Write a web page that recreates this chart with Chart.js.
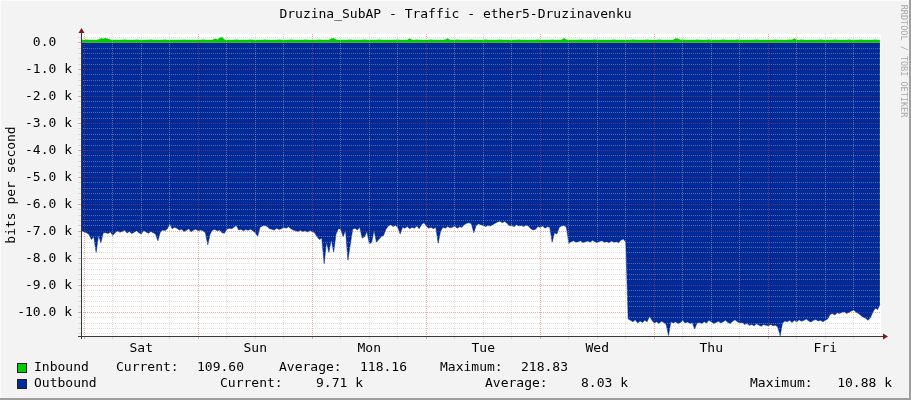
<!DOCTYPE html>
<html><head><meta charset="utf-8">
<script src="https://cdn.jsdelivr.net/npm/chart.js@4/dist/chart.umd.min.js"></script>
<style>html,body{margin:0;padding:0;background:#F3F3F3;}canvas{display:block;}</style>
</head><body>
<canvas id="c" width="911" height="400"></canvas>
<script>
const TITLE = 'Druzina_SubAP - Traffic - ether5-Druzinavenku';
const Y_TITLE = 'bits per second';
const WATERMARK = 'RRDTOOL / TOBI OETIKER';
const dayLabels = ['Sat','Sun','Mon','Tue','Wed','Thu','Fri'];
const seriesNames = ['Inbound','Outbound'];
const statLabels = ['Current:','Average:','Maximum:'];
const inboundStats = ['109.60','118.16','218.83'];
const outboundStats = ['9.71 k','8.03 k','10.88 k'];
// samples every half hour, hour 0 = Saturday 00:00
const START_HOUR = -0.5, STEP_HOURS = 0.5;
const outbound = [
-6980,-7020,-7050,-7120,-7300,-7200,-7780,-7150,-7420,-7050,
-7050,-7080,-7020,-7150,-7040,-6980,-7030,-7000,-6950,-7060,
-7000,-7080,-7030,-6980,-7050,-7100,-6970,-7020,-7070,-7000,
-7050,-7100,-7350,-7020,-6950,-6970,-6900,-6720,-6900,-6850,
-6880,-6950,-6920,-7000,-6960,-6900,-7020,-6950,-6920,-6980,
-6950,-6980,-7050,-7500,-7100,-6950,-6930,-6980,-6950,-7050,
-7070,-6920,-6880,-6900,-6850,-6780,-6950,-6920,-6980,-6930,
-6960,-6920,-6980,-7050,-7180,-6850,-6800,-6780,-6820,-6900,
-6920,-6950,-6880,-6930,-6900,-6850,-6880,-6830,-6900,-6950,
-6980,-7000,-6960,-7000,-6980,-7020,-6970,-7000,-7050,-7200,
-7300,-7250,-8200,-7400,-7780,-7300,-7770,-7100,-6900,-6920,
-7200,-6950,-8070,-7500,-6920,-6880,-6950,-6850,-7250,-7200,
-7000,-7450,-7420,-6950,-7400,-7300,-7200,-7150,-6920,-6800,
-6750,-6820,-6780,-6850,-7100,-6850,-6880,-6820,-6900,-6850,
-6880,-6800,-6900,-6750,-6680,-6800,-6880,-6850,-6900,-6850,
-7440,-7000,-6850,-6880,-6820,-6870,-6850,-6800,-6880,-6830,
-6850,-6750,-6700,-6680,-6720,-7050,-6780,-6720,-6750,-6780,
-6820,-6780,-6800,-6750,-6700,-6650,-6620,-6680,-6630,-6700,
-6800,-6780,-6830,-6750,-6800,-6780,-6820,-6770,-6800,-6900,
-6950,-6920,-6820,-6850,-6800,-6880,-6830,-6850,-7400,-7050,
-7100,-6850,-6800,-6780,-6850,-7450,-7380,-7350,-7400,-7380,
-7350,-7420,-7380,-7360,-7400,-7330,-7380,-7420,-7370,-7350,
-7400,-7380,-7420,-7360,-7400,-7380,-7420,-7320,-7280,-7400,
-10250,-10300,-10350,-10280,-10400,-10320,-10380,-10300,-10350,-10150,
-10300,-10400,-10350,-10420,-10330,-10380,-10450,-10860,-10350,-10400,
-10350,-10420,-10380,-10300,-10400,-10360,-10420,-10380,-10620,-10400,
-10380,-10420,-10350,-10400,-10300,-10350,-10420,-10380,-10330,-10400,
-10350,-10300,-10380,-10420,-10330,-10280,-10350,-10400,-10380,-10450,
-10420,-10480,-10450,-10500,-10430,-10470,-10520,-10450,-10480,-10500,
-10450,-10500,-10480,-10550,-10870,-10400,-10320,-10350,-10300,-10380,
-10300,-10350,-10280,-10330,-10300,-10250,-10320,-10360,-10300,-10270,
-10320,-10300,-10350,-10300,-10250,-10080,-10050,-10100,-10020,-10050,
-10000,-9980,-10050,-10000,-9950,-9920,-10000,-10050,-10120,-10180,
-10220,-10300,-10200,-10000,-9850,-9900,-9710
];
const inbound = [
110,108,112,110,109,111,110,112,160,150,
170,140,112,110,108,111,109,110,112,110,
111,109,110,112,108,110,111,109,110,112,
110,108,111,110,109,112,110,111,108,110,
109,111,110,112,110,108,111,109,110,111,
110,112,109,110,111,108,150,112,180,219,
120,110,109,111,110,112,108,110,111,109,
110,112,110,108,111,109,110,112,110,109,
111,110,108,112,110,109,111,110,112,108,
110,111,109,110,112,108,110,111,109,110,
112,110,108,111,110,150,170,112,109,110,
111,109,110,112,108,110,111,109,110,112,
110,108,111,110,109,112,110,111,108,110,
109,111,110,112,110,108,111,109,160,111,
110,112,109,110,111,108,110,112,110,109,
111,110,108,112,165,109,111,110,112,108,
110,111,109,110,112,108,110,111,109,110,
112,110,108,111,110,109,112,110,111,108,
110,109,111,110,112,110,108,111,109,110,
111,110,112,109,110,111,108,110,112,110,
109,111,110,170,112,108,110,111,109,110,
112,110,108,111,110,109,112,110,111,108,
110,109,111,110,112,110,108,111,109,110,
111,110,112,109,110,111,108,110,112,110,
109,111,110,112,110,108,111,109,110,111,
165,150,110,112,109,110,111,108,110,112,
110,109,111,110,112,108,110,111,109,110,
112,110,108,111,110,109,112,110,111,108,
110,109,111,110,112,110,108,111,109,110,
111,110,112,109,110,111,108,110,112,110,
160,111,110,112,110,108,111,109,110,111,
110,112,109,110,111,108,110,112,110,109,
111,110,108,112,110,109,111,110,112,108,
110,111,109,110,112,108,110
];

const hours = outbound.map((_, i) => START_HOUR + i * STEP_HOURS);
const FONT = '"DejaVu Sans Mono", monospace';
const GRID_MINOR = 'rgba(185,185,185,0.45)';
const GRID_MAJOR = 'rgba(230,60,60,0.45)';

const decor = {
  id: 'decor',
  beforeDraw(chart) {
    const {ctx, chartArea: a} = chart;
    ctx.save();
    ctx.fillStyle = '#F3F3F3'; ctx.fillRect(0, 0, 911, 400);
    ctx.fillStyle = '#FCFCFC'; ctx.fillRect(0, 0, 911, 1); ctx.fillRect(0, 0, 1, 400);
    ctx.fillStyle = '#9E9E9E'; ctx.fillRect(0, 398, 911, 2); ctx.fillRect(909, 0, 2, 400);
    ctx.fillStyle = '#FFFFFF'; ctx.fillRect(a.left, a.top, a.right - a.left, a.bottom - a.top);
    ctx.restore();
  },
  afterDraw(chart) {
    const {ctx, chartArea: a} = chart;
    ctx.save();
    // axes
    ctx.strokeStyle = '#383838'; ctx.lineWidth = 1;
    ctx.beginPath();
    ctx.moveTo(a.left + 0.5, a.bottom + 3); ctx.lineTo(a.left + 0.5, a.top - 3);
    ctx.moveTo(a.left - 3, a.bottom + 0.5); ctx.lineTo(a.right + 3, a.bottom + 0.5);
    ctx.stroke();
    ctx.fillStyle = '#801818';
    ctx.beginPath();
    ctx.moveTo(a.left - 2.5, a.top - 1); ctx.lineTo(a.left + 3.5, a.top - 1); ctx.lineTo(a.left + 0.5, a.top - 6); ctx.closePath(); ctx.fill();
    ctx.beginPath();
    ctx.moveTo(a.right + 2, a.bottom - 2.5); ctx.lineTo(a.right + 2, a.bottom + 3.5); ctx.lineTo(a.right + 7, a.bottom + 0.5); ctx.closePath(); ctx.fill();
    // title
    ctx.fillStyle = '#000';
    ctx.font = '13px ' + FONT;
    ctx.textAlign = 'center'; ctx.textBaseline = 'middle';
    ctx.fillText(TITLE, 455.5, 15);
    // y title
    ctx.save();
    ctx.translate(11.5, (a.top + a.bottom) / 2);
    ctx.rotate(-Math.PI / 2);
    ctx.fillText(Y_TITLE, 0, 0);
    ctx.restore();
    // watermark
    ctx.save();
    ctx.translate(903, 61);
    ctx.rotate(Math.PI / 2);
    ctx.font = '8.5px ' + FONT;
    ctx.fillStyle = '#A8A8A8';
    ctx.fillText(WATERMARK, 0, 0);
    ctx.restore();
    // legend
    const rows = [
      {y: 368, color: '#00CC00', name: seriesNames[0], stats: inboundStats,
       lx: [116, 279, 440], vx: [244, 407, 568]},
      {y: 384, color: '#002A97', name: seriesNames[1], stats: outboundStats,
       lx: [220, 485, 750], vx: [363, 628, 892]}
    ];
    ctx.font = '13px ' + FONT;
    ctx.textBaseline = 'middle';
    rows.forEach(r => {
      ctx.fillStyle = r.color; ctx.fillRect(17, r.y - 5, 10, 10);
      ctx.strokeStyle = '#202020'; ctx.lineWidth = 1; ctx.strokeRect(17.5, r.y - 4.5, 9, 9);
      ctx.fillStyle = '#000';
      ctx.textAlign = 'left';
      ctx.fillText(r.name, 34, r.y);
      for (let k = 0; k < 3; k++) {
        ctx.textAlign = 'left'; ctx.fillText(statLabels[k], r.lx[k], r.y);
        ctx.textAlign = 'right'; ctx.fillText(r.stats[k], r.vx[k], r.y);
      }
    });
    ctx.restore();
  }
};

Chart.defaults.font.family = FONT;
Chart.defaults.font.size = 13;
Chart.defaults.color = '#000';

new Chart(document.getElementById('c'), {
  type: 'line',
  data: {
    datasets: [
      {label: seriesNames[0], data: hours.map((h, i) => ({x: h, y: inbound[i]})),
       fill: 'origin', backgroundColor: '#00CC00', borderColor: '#00CC00', borderWidth: 0,
       pointRadius: 0, tension: 0},
      {label: seriesNames[1], data: hours.map((h, i) => ({x: h, y: outbound[i]})),
       fill: 'origin', backgroundColor: '#002A97', borderColor: '#002A97', borderWidth: 0.5,
       pointRadius: 0, tension: 0}
    ]
  },
  options: {
    responsive: false, animation: false, devicePixelRatio: 1,
    layout: {padding: {left: 0, top: 34, right: 30, bottom: 0}},
    plugins: {legend: {display: false}, tooltip: {enabled: false}, title: {display: false}},
    scales: {
      x: {
        type: 'linear', min: -0.69, max: 167.73,
        afterBuildTicks: s => { const t = []; for (let h = 0; h <= 162; h += 6) t.push({value: h}); s.ticks = t; },
        afterFit: s => { s.height = 64; },
        ticks: {autoSkip: false, maxRotation: 0, padding: 2,
          callback: v => ((v - 12) % 24 === 0 ? dayLabels[(v - 12) / 24] : '')},
        grid: {z: 1, drawTicks: true, tickLength: 3,
          color: c => (c.tick && c.tick.value % 24 === 0 ? GRID_MAJOR : GRID_MINOR)},
        border: {display: false, dash: [1, 1]}
      },
      y: {
        type: 'linear', min: -10880, max: 320,
        afterBuildTicks: s => { const t = []; for (let v = -10800; v <= 200; v += 200) t.push({value: v}); s.ticks = t; },
        afterFit: s => { s.width = 81; },
        ticks: {autoSkip: false, padding: 6,
          callback: v => (Math.round(v) % 1000 === 0 ? (v === 0 ? '0.0  ' : (v / 1000).toFixed(1) + ' k') : '')},
        grid: {z: 1, drawTicks: true, tickLength: 3,
          color: c => (c.tick && Math.round(c.tick.value) % 1000 === 0 ? GRID_MAJOR : GRID_MINOR)},
        border: {display: false, dash: [1, 1]}
      }
    }
  },
  plugins: [decor]
});
</script>
</body></html>
